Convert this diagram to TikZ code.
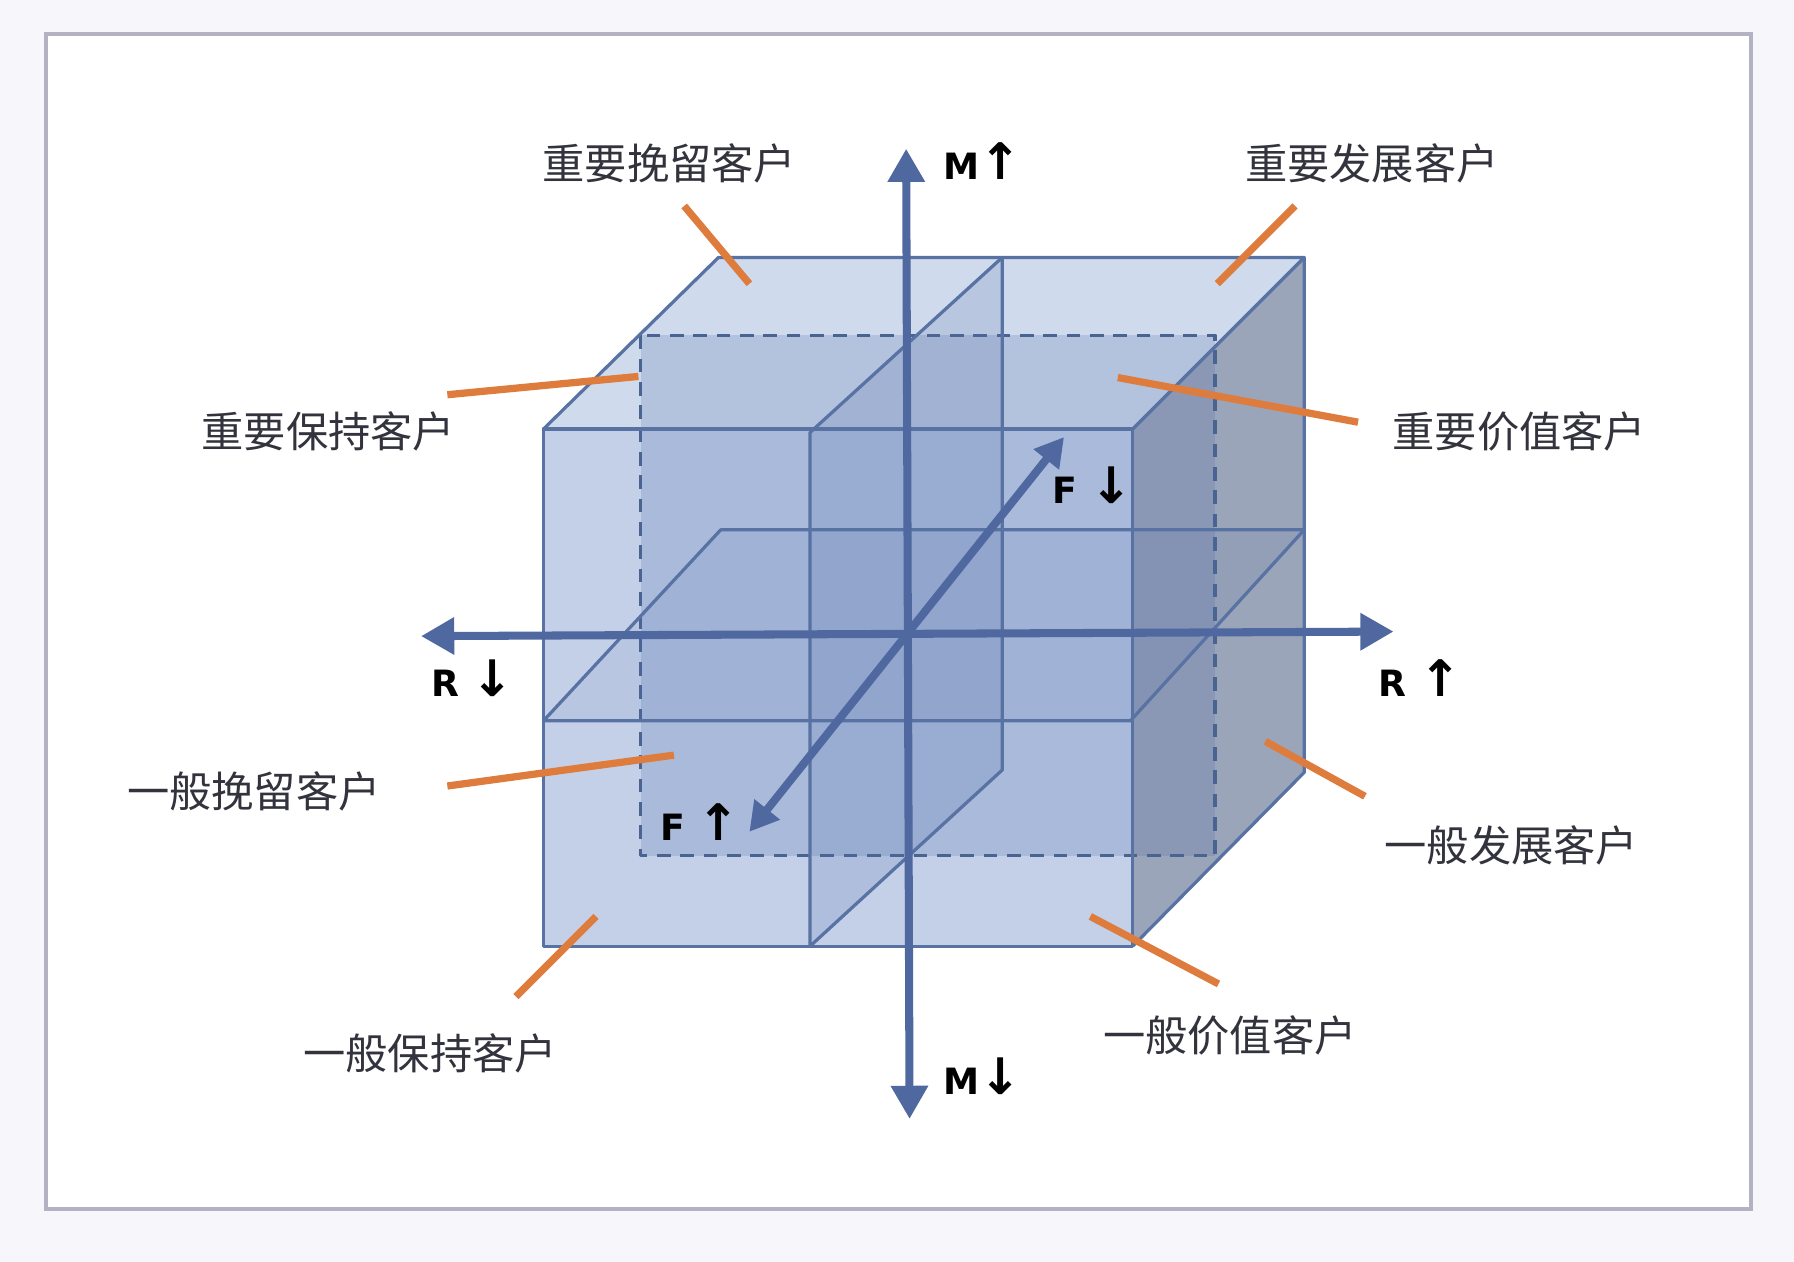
\documentclass[tikz,border=0pt]{standalone}
\usepackage{fontspec}
\setmainfont{DejaVu Sans}
\newfontfamily\cjkfont{Noto Sans CJK SC}
\usetikzlibrary{arrows.meta}
\definecolor{PageGray}{RGB}{246,246,251}
\definecolor{FrameGray}{RGB}{178,178,194}
\definecolor{CubeEdge}{RGB}{88,114,163}
\definecolor{DashEdge}{RGB}{74,100,145}
\definecolor{FrontBlue}{RGB}{196,208,232}
\definecolor{TopBlue}{RGB}{207,218,236}
\definecolor{SideGray}{RGB}{155,165,185}
\definecolor{PlaneBlue}{RGB}{80,110,170}
\definecolor{AxisBlue}{RGB}{80,104,160}
\definecolor{LeaderOrange}{RGB}{221,124,60}
\definecolor{LabelGray}{RGB}{51,51,61}
\newcommand{\uparr}{{\fontsize{12.5}{13}\selectfont ↑}}
\newcommand{\downarr}{{\fontsize{12.5}{13}\selectfont ↓}}
\tikzset{
  face/.style={draw=CubeEdge,line width=0.8pt,line join=round},
  plane/.style={face,fill=PlaneBlue,fill opacity=#1},
  plane/.default=0.18,
  midplane/.style={plane=0.22,draw=DashEdge,dash pattern=on 3.4pt off 2.4pt},
  axis/.style={{Triangle[length=0.29cm,width=0.31cm]}-{Triangle[length=0.29cm,width=0.31cm]},
    line width=2pt,AxisBlue},
  depthaxis/.style={{Triangle[length=0.25cm,width=0.27cm]}-{Triangle[length=0.25cm,width=0.27cm]},
    line width=2pt,AxisBlue},
  leader/.style={line width=1.8pt,LeaderOrange},
  segment/.style={font=\cjkfont\fontsize{10.5}{12}\selectfont,text=LabelGray,inner sep=0pt},
  dirlabel/.style={font=\bfseries\fontsize{9}{10}\selectfont,inner sep=0pt,anchor=base}
}

\begin{document}
\begin{tikzpicture}[x=0.01cm,y=-0.01cm]
      \fill[PageGray] (0,0) rectangle (1568,1103);
      \useasboundingbox (0,0) rectangle (1568,1103);
      \draw[FrameGray,line width=1pt,fill=white] (40,30) rectangle (1530,1057);
      % cube corners
      \coordinate (ftl) at (475,375);  \coordinate (ftr) at (990,375);
      \coordinate (fbl) at (475,827);  \coordinate (fbr) at (990,827);
      \coordinate (btl) at (628,225);  \coordinate (btr) at (1140,225);
      \coordinate (bbr) at (1140,675);
      \fill[TopBlue] (ftl) -- (btl) -- (btr) -- (ftr) -- cycle;
      \fill[SideGray] (ftr) -- (btr) -- (bbr) -- (fbr) -- cycle;
      \fill[FrontBlue] (ftl) rectangle (fbr);
      \draw[midplane] (560,293) rectangle (1062,748);
      \draw[plane] (708,378) -- (876,225) -- (876,673) -- (708,827) -- cycle;
      \draw[plane=0.1] (475,630) -- (630,463) -- (1140,463) -- (988,630) -- cycle;
      \draw[face] (ftl) rectangle (fbr);
      \draw[face] (ftl) -- (btl) -- (btr) -- (ftr);
      \draw[face] (btr) -- (bbr) -- (fbr);
      % axes
      \coordinate (mtop) at (792,130);  \coordinate (mbot) at (795,978);
      \coordinate (rlow) at (368,556);  \coordinate (rhigh) at (1218,552);
      \coordinate (fhigh) at (655,727); \coordinate (flow) at (930,382);
      \draw[axis] (mbot) -- (mtop);
      \draw[axis] (rlow) -- (rhigh);
      \draw[depthaxis] (fhigh) -- (flow);
      \node[dirlabel] (mup) at (859,157) {M\uparr};
      \node[dirlabel] (mdown) at (859,957) {M\downarr};
      \node[dirlabel] (rdown) at (413,609) {R \downarr};
      \node[dirlabel] (rup) at (1241,609) {R \uparr};
      \node[dirlabel] (fdown) at (955,440) {F \downarr};
      \node[dirlabel] (fup) at (612,735) {F \uparr};
      % segments
      \node[segment] (wanliu) at (585,143) {重要挽留客户};
      \node[segment] (fazhan) at (1199,143) {重要发展客户};
      \node[segment] (baochi) at (287,377) {重要保持客户};
      \node[segment] (jiazhi) at (1328,377) {重要价值客户};
      \node[segment] (ybwanliu) at (222,692) {一般挽留客户};
      \node[segment] (ybfazhan) at (1321,739) {一般发展客户};
      \node[segment] (ybbaochi) at (376,921) {一般保持客户};
      \node[segment] (ybjiazhi) at (1075,905) {一般价值客户};
      \coordinate (wanliu-a) at (598,180);   \coordinate (wanliu-b) at (655,248);
      \coordinate (fazhan-a) at (1132,180);  \coordinate (fazhan-b) at (1064,248);
      \coordinate (baochi-a) at (391,345);   \coordinate (baochi-b) at (558,329);
      \coordinate (jiazhi-a) at (1187,369);  \coordinate (jiazhi-b) at (977,330);
      \coordinate (ybwanliu-a) at (391,687); \coordinate (ybwanliu-b) at (589,660);
      \coordinate (ybfazhan-a) at (1193,696); \coordinate (ybfazhan-b) at (1106,648);
      \coordinate (ybbaochi-a) at (451,871); \coordinate (ybbaochi-b) at (521,801);
      \coordinate (ybjiazhi-a) at (1065,860); \coordinate (ybjiazhi-b) at (953,801);
      \foreach \seg in {wanliu,fazhan,baochi,jiazhi,ybwanliu,ybfazhan,ybbaochi,ybjiazhi}
        \draw[leader] (\seg-a) -- (\seg-b);
    \end{tikzpicture}
\end{document}
